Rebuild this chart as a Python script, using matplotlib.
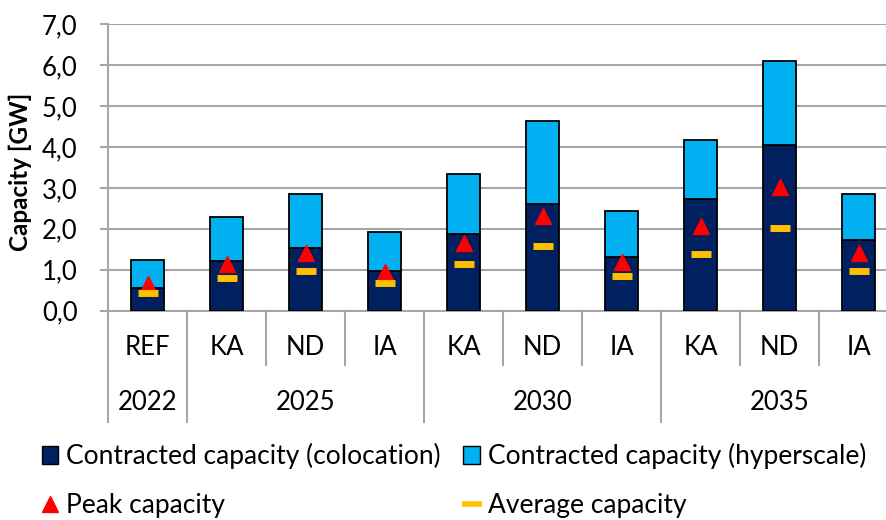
import matplotlib.pyplot as plt
import numpy as np
from matplotlib.patches import Patch
from matplotlib.lines import Line2D
import matplotlib.transforms as mtransforms

plt.rcParams['font.family'] = ['Lato', 'DejaVu Sans']
plt.rcParams['font.size'] = 18.5

# data (GW)
scenarios = ['REF', 'KA', 'ND', 'IA', 'KA', 'ND', 'IA', 'KA', 'ND', 'IA']
years = ['2022', '2025', '2030', '2035']
year_sizes = [1, 3, 3, 3]
colocation = [0.55, 1.22, 1.54, 0.98, 1.88, 2.60, 1.30, 2.72, 4.04, 1.72]
hyperscale = [0.69, 1.07, 1.30, 0.93, 1.45, 2.03, 1.13, 1.44, 2.06, 1.13]
peak = [0.66, 1.14, 1.40, 0.94, 1.65, 2.30, 1.20, 2.07, 3.03, 1.41]
average = [0.44, 0.79, 0.98, 0.67, 1.14, 1.59, 0.84, 1.38, 2.03, 0.97]

navy = '#002060'
sky = '#00B0F0'
grid_c = '#A6A6A6'

fig = plt.figure(figsize=(8.86, 5.2), dpi=100)
ax = fig.add_axes([108/886, 1 - 310.7/520, 790/886, 286.7/520])

x = np.arange(len(scenarios))
ax.bar(x, colocation, width=0.41, color=navy, edgecolor='black', linewidth=1.3, zorder=3)
ax.bar(x, hyperscale, width=0.41, bottom=colocation, color=sky, edgecolor='black', linewidth=1.3, zorder=3)
ax.plot(x, peak, ls='none', marker='^', ms=12, color='#FF0000', zorder=4)
ax.plot(x, average, ls='none', marker='_', ms=15, mew=5, color='#FFC000', zorder=4)

ax.set_xlim(-0.5, len(scenarios) - 0.5)
ax.set_ylim(0, 7)
ax.set_yticks(np.arange(0, 8, 1))
ax.set_yticklabels([f'{v:.1f}'.replace('.', ',') for v in range(8)])
ax.yaxis.grid(True, color=grid_c, linewidth=1.5, zorder=0)
ax.set_axisbelow(True)
for s in ['top', 'right']:
    ax.spines[s].set_visible(False)
for s in ['left', 'bottom']:
    ax.spines[s].set_color(grid_c)
    ax.spines[s].set_linewidth(1.5)
ax.tick_params(axis='y', direction='out', length=6, width=1.5, color=grid_c, pad=16)
ax.tick_params(axis='x', length=0, pad=0)
ax.set_xticks(x)
ax.set_xticklabels([])

ax.set_ylabel('Capacity [GW]', fontweight='bold', fontsize=17.5)
ax.yaxis.set_label_coords(-0.096, 0.485)

# two-level category axis
trans = mtransforms.blended_transform_factory(ax.transData, ax.transAxes)
for i, lab in enumerate(scenarios):
    ax.text(i, -0.129, lab, transform=trans, ha='center', va='center')
bounds = np.cumsum([0] + year_sizes)
for i in range(len(scenarios) + 1):
    low = -0.387 if i in bounds else -0.19
    ax.plot([i - 0.5, i - 0.5], [0, low], transform=trans, color=grid_c,
            linewidth=1.5, clip_on=False)
for j, yr in enumerate(years):
    mid = (bounds[j] + bounds[j + 1] - 1) / 2
    ax.text(mid, -0.321, yr, transform=trans, ha='center', va='center')

# legend, filled row by row like the original
handles = [
    Patch(facecolor=navy, edgecolor='black', linewidth=1),
    Line2D([], [], ls='none', marker='^', ms=12, color='#FF0000'),
    Patch(facecolor=sky, edgecolor='black', linewidth=1),
    Line2D([], [], ls='none', marker='_', ms=14, mew=4, color='#FFC000'),
]
labels = ['Contracted capacity (colocation)', 'Peak capacity',
          'Contracted capacity (hyperscale)', 'Average capacity']
fig.legend(handles, labels, loc='upper left', bbox_to_anchor=(42/886, 1 - 443/520),
           ncol=2, frameon=False, borderpad=0, borderaxespad=0, fontsize=19,
           handlelength=0.62, handleheight=0.65, handletextpad=0.3,
           columnspacing=0.85, labelspacing=0.92)

fig.savefig('out.png', dpi=100)
